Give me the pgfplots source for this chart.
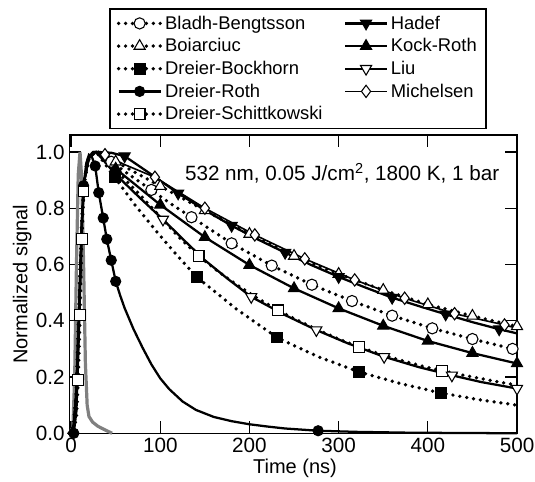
\documentclass[border=0pt]{standalone}
\usepackage{fontspec}
\setmainfont{Liberation Sans}
\usepackage{pgfplots}
\pgfplotsset{compat=1.18}
\pgfplotsset{
 dotl/.style={black, line width=2.8pt, dash pattern=on 0pt off 5.2pt, line cap=round},
 soll/.style={black, line width=1.7pt},
 mo/.style={mark options={solid, black, line width=0.8pt, #1}},
}
\begin{document}
\begin{tikzpicture}
\begin{axis}[
 name=ax,
 scale only axis, width=335.8pt, height=223.7pt,
 xmin=-2, xmax=500, ymin=0, ymax=1.06,
 xtick={0,100,200,300,400,500},
 ytick={0,0.2,0.4,0.6,0.8,1.0},
 yticklabels={0.0,0.2,0.4,0.6,0.8,1.0},
 /pgf/number format/assume math mode=true,
 tick align=inside, major tick length=9pt,
 axis line style={line width=1pt},
 tick style={line width=1pt, black},
 tick label style={font=\fontsize{15.5}{18}\selectfont},
 xlabel={Time (ns)}, ylabel={Normalized signal},
 every axis x label/.style={at={(axis description cs:0.504,-0.118)}, anchor=center, font=\fontsize{15}{18}\selectfont},
 every axis y label/.style={at={(axis description cs:-0.105,0.5)}, anchor=center, rotate=90, font=\fontsize{15}{18}\selectfont},
 legend columns=2,
 legend cell align=left,
 legend style={at={(0.511,1)}, anchor=south, yshift=4.5pt, draw=black, line width=1pt,
   font=\fontsize{13.8}{16.5}\selectfont, row sep=1.5pt, inner xsep=5pt, inner ysep=3pt,
   /tikz/every even column/.append style={column sep=14pt}},
 legend image code/.code={\draw[mark repeat=2,mark phase=2,#1] plot coordinates {(0pt,0pt) (15.75pt,0pt) (31.5pt,0pt)};},
 clip=false,
]
% laser pulse (grey)
\addplot[gray, line width=2.4pt, forget plot] coordinates {
(-2,0) (2,0.02) (4,0.2) (6,0.6) (8,0.92) (10,1.0) (12,0.9) (14,0.6) (16,0.25) (18,0.1) (20,0.06) (24,0.04) (30,0.025) (38,0.012) (46,0.0)};

% Bladh-Bengtsson
\addplot[dotl, forget plot] coordinates {
(-2,0) (0,0) (3,0.03) (6,0.15) (9,0.45) (12,0.75) (15,0.9) (20,0.98) (25,1.0) (30,1.0) (45,0.965) (67,0.915) (90,0.865) (112,0.815) (135,0.768) (180,0.675) (225,0.596) (270,0.528) (315,0.470) (360,0.418) (405,0.373) (450,0.335) (495,0.300) (500,0.296)};
\addplot[only marks, mark=*, mark size=4.2pt, mo={fill=white}, forget plot] coordinates {
(45,0.965) (90,0.865) (135,0.768) (180,0.675) (225,0.596) (270,0.528) (315,0.470) (360,0.418) (405,0.373) (450,0.335) (495,0.300)};

% Boiarciuc
\addplot[dotl, forget plot] coordinates {
(-2,0) (0,0) (3,0.03) (6,0.15) (9,0.45) (12,0.75) (15,0.9) (20,0.98) (25,1.0) (30,1.0) (50,0.965) (100,0.878) (150,0.792) (200,0.708) (250,0.630) (300,0.566) (350,0.509) (400,0.458) (450,0.417) (500,0.38)};
\addplot[only marks, mark=triangle*, mark size=4.8pt, mo={fill=white}, forget plot] coordinates {
(50,0.965) (100,0.878) (150,0.792) (200,0.708) (250,0.630) (300,0.566) (350,0.509) (400,0.458) (450,0.417) (500,0.38)};

% Dreier-Bockhorn
\addplot[dotl, forget plot] coordinates {
(-2,0) (0,0) (3,0.03) (6,0.15) (9,0.45) (12,0.75) (15,0.9) (20,0.98) (28,1.0) (49,0.91) (72,0.81) (95,0.72) (118,0.635) (141,0.555) (186,0.44) (231,0.34) (277,0.272) (323,0.218) (369,0.177) (415,0.143) (460,0.118) (500,0.10)};
\addplot[only marks, mark=square*, mark size=4pt, mo={fill=black}, forget plot] coordinates {
(49,0.91) (141,0.555) (231,0.34) (323,0.218) (415,0.143)};

% Dreier-Roth
\addplot[soll, forget plot] coordinates {
(-2,0) (0,0) (3,0.0) (6,0.08) (9,0.38) (12,0.72) (14,0.88) (17,0.96) (20,0.99) (23,0.985) (27,0.95) (31,0.855) (36,0.765) (40,0.69) (45,0.615) (50,0.54) (55,0.49) (60,0.445) (70,0.37) (80,0.305) (90,0.245) (100,0.195) (110,0.157) (125,0.113) (140,0.083) (160,0.058) (180,0.043) (200,0.032) (220,0.024) (240,0.017) (277,0.009) (320,0.005) (380,0.002) (440,0.001) (500,0.0)};
\addplot[only marks, mark=*, mark size=3.8pt, mo={fill=black}, forget plot] coordinates {
(3,0.0) (14,0.88) (27,0.95) (31,0.855) (36,0.765) (40,0.69) (45,0.615) (50,0.54) (277,0.009)};

% Dreier-Schittkowski
\addplot[dotl, forget plot] coordinates {
(-2,0) (0,0) (3,0.01) (6,0.06) (8,0.19) (10,0.42) (12,0.69) (14,0.86) (17,0.95) (22,0.99) (28,1.0) (50,0.935) (75,0.855) (97,0.78) (120,0.70) (143,0.63) (165,0.575) (187,0.525) (210,0.478) (232,0.437) (255,0.40) (277,0.367) (300,0.335) (323,0.307) (346,0.282) (369,0.26) (392,0.24) (416,0.222) (440,0.206) (460,0.194) (480,0.182) (500,0.171)};
\addplot[only marks, mark=square*, mark size=4pt, mo={fill=white}, forget plot] coordinates {
(8,0.19) (10,0.42) (12,0.69) (14,0.86) (143,0.63) (232,0.437) (323,0.307) (416,0.222)};

% Hadef
\addplot[soll, forget plot] coordinates {
(-2,0) (0,0) (3,0.03) (6,0.15) (9,0.45) (12,0.75) (15,0.9) (20,0.98) (25,1.0) (30,1.0) (45,0.997) (60,0.985) (90,0.92) (120,0.853) (150,0.793) (180,0.738) (210,0.688) (240,0.642) (270,0.597) (300,0.556) (330,0.518) (360,0.482) (390,0.452) (420,0.423) (450,0.395) (480,0.370) (500,0.355)};
\addplot[only marks, mark=triangle*, mark size=4.8pt, mo={fill=black, rotate=180}, forget plot] coordinates {
(60,0.985) (120,0.853) (180,0.738) (240,0.642) (300,0.556) (360,0.482) (420,0.423) (480,0.370)};

% Kock-Roth
\addplot[soll, forget plot] coordinates {
(-2,0) (0,0) (3,0.03) (6,0.15) (9,0.45) (12,0.75) (15,0.9) (20,0.98) (25,1.0) (30,1.0) (50,0.94) (100,0.812) (150,0.697) (200,0.598) (250,0.515) (300,0.444) (350,0.382) (400,0.328) (450,0.285) (500,0.248)};
\addplot[only marks, mark=triangle*, mark size=4.8pt, mo={fill=black}, forget plot] coordinates {
(50,0.94) (100,0.812) (150,0.697) (200,0.598) (250,0.515) (300,0.444) (350,0.382) (400,0.328) (450,0.285) (500,0.248)};

% Liu
\addplot[soll, forget plot] coordinates {
(-2,0) (0,0) (3,0.03) (6,0.15) (9,0.45) (12,0.75) (15,0.9) (20,0.98) (28,1.0) (50,0.92) (76,0.84) (103,0.76) (127,0.685) (150,0.615) (176,0.548) (202,0.485) (240,0.42) (275,0.367) (310,0.32) (351,0.272) (390,0.235) (427,0.206) (460,0.182) (500,0.159)};
\addplot[only marks, mark=triangle*, mark size=4.8pt, mo={fill=white, rotate=180}, forget plot] coordinates {
(103,0.76) (202,0.485) (275,0.367) (351,0.272) (427,0.206) (500,0.159)};

% Michelsen
\addplot[black, line width=1.2pt, forget plot] coordinates {
(-2,0) (0,0) (3,0.03) (6,0.15) (9,0.45) (12,0.75) (15,0.9) (20,0.98) (25,1.0) (30,1.0) (38,0.99) (60,0.955) (94,0.91) (150,0.80) (206,0.705) (262,0.62) (318,0.545) (374,0.48) (430,0.425) (486,0.385) (500,0.373)};
\addplot[only marks, mark=diamond*, mark size=4.6pt, mo={fill=white}, forget plot] coordinates {
(38,0.99) (94,0.91) (150,0.80) (206,0.705) (262,0.62) (318,0.545) (374,0.48) (430,0.425) (486,0.385)};

% legend (row-major: left column, right column)
\addlegendimage{dotl, mark=*, mark size=4.2pt, mo={fill=white}}
\addlegendentry{Bladh-Bengtsson}
\addlegendimage{soll, mark=triangle*, mark size=4.8pt, mo={fill=black, rotate=180}}
\addlegendentry{Hadef}
\addlegendimage{dotl, mark=triangle*, mark size=4.8pt, mo={fill=white}}
\addlegendentry{Boiarciuc}
\addlegendimage{soll, mark=triangle*, mark size=4.8pt, mo={fill=black}}
\addlegendentry{Kock-Roth}
\addlegendimage{dotl, mark=square*, mark size=4pt, mo={fill=black}}
\addlegendentry{Dreier-Bockhorn}
\addlegendimage{soll, mark=triangle*, mark size=4.8pt, mo={fill=white, rotate=180}}
\addlegendentry{Liu}
\addlegendimage{soll, mark=*, mark size=3.8pt, mo={fill=black}}
\addlegendentry{Dreier-Roth}
\addlegendimage{black, line width=1.2pt, mark=diamond*, mark size=4.6pt, mo={fill=white}}
\addlegendentry{Michelsen}
\addlegendimage{dotl, mark=square*, mark size=4pt, mo={fill=white}}
\addlegendentry{Dreier-Schittkowski}

\node[anchor=east, font=\fontsize{15.5}{18}\selectfont] at (rel axis cs:0.971,0.873) {532 nm, 0.05 J/cm\textsuperscript{2}, 1800 K, 1 bar};
\end{axis}
\pgfresetboundingbox
\useasboundingbox (ax.south west) ++(-52pt,-35.8pt) rectangle ++(401.3pt,360.8pt);
\end{tikzpicture}
\end{document}
